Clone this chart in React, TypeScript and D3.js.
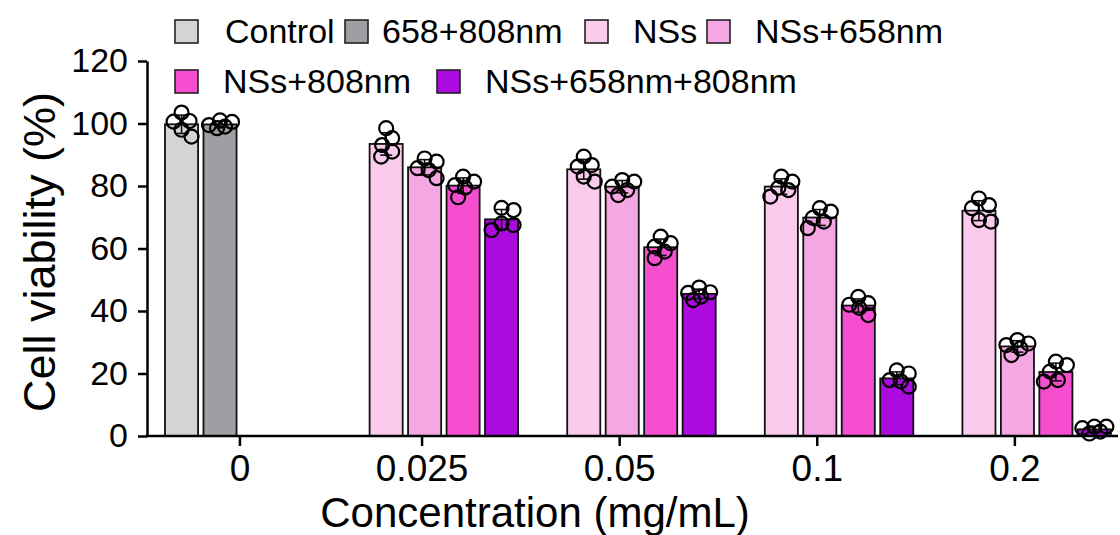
import React, { useEffect, useRef } from 'react';
import * as d3 from 'd3';

const concentrations = ['0', '0.025', '0.05', '0.1', '0.2'];
const seriesNames = ['Control', '658+808nm', 'NSs', 'NSs+658nm', 'NSs+808nm', 'NSs+658nm+808nm'];
const seriesColors = ['#d4d4d4', '#a09ea3', '#facbec', '#f5a7e3', '#f54fd0', '#ad0ae0'];

// replicates (%) per concentration, null where the group was not tested
const controlReps = [[103.5, 100.6, 100.8, 98, 95.8], null, null, null, null];
const laserReps = [[100.5, 101, 99, 98.5, 99.5], null, null, null, null];
const nssReps = [null, [98.5, 95.3, 93.1, 91, 89.4], [89.4, 86.2, 86.7, 81.4, 83], [83, 81.4, 78.7, 76.6, 79.4], [76, 72.9, 73.9, 68.6, 69.1]];
const nss658Reps = [null, [88.8, 87.8, 85.7, 85.1, 82.5], [81.9, 81.4, 78.7, 77.1, 79.8], [72.9, 71.8, 68.6, 66.5, 69.8], [30.7, 29.6, 28, 25.9, 29.1]];
const nss808Reps = [null, [83, 81.4, 80.3, 79.5, 76.4], [63.8, 60.6, 61.7, 56.9, 59], [44.5, 42.5, 42, 38.7, 41], [23.8, 20.6, 22.7, 17.4, 17.9]];
const nssBothReps = [null, [73, 72.3, 68, 67.5, 65.9], [47.5, 46, 44.6, 43.5, 45.8], [21, 20, 15.8, 17.9, 17.5], [3, 3, 2.5, 1.4, 0.8]];

const yTicks = [0, 20, 40, 60, 80, 100, 120];

const allReps = [controlReps, laserReps, nssReps, nss658Reps, nss808Reps, nssBothReps];
const FONT = '"Liberation Sans", Arial, sans-serif';

// greedy beeswarm, kept inside the bar: dots may overlap a little like in Prism
function swarm(ys: number[], minDist: number, maxDx: number) {
  const order = d3.range(ys.length).sort((a, b) => ys[a] - ys[b]);
  const placed: { x: number; y: number }[] = [];
  const out: number[] = new Array(ys.length).fill(0);
  order.forEach((i) => {
    let best = 0;
    let bestScore = -1;
    for (let k = 0; k <= maxDx * 2; k++) {
      const dx = k === 0 ? 0 : (k % 2 ? 1 : -1) * Math.ceil(k / 2);
      const near = placed.length
        ? d3.min(placed, (p) => Math.hypot(p.x - dx, p.y - ys[i])) as number
        : Infinity;
      if (near >= minDist) {
        best = dx;
        bestScore = Infinity;
        break;
      }
      if (near > bestScore) {
        bestScore = near;
        best = dx;
      }
    }
    placed.push({ x: best, y: ys[i] });
    out[i] = best;
  });
  return out;
}

function App() {
  const svgRef = useRef(null);

  useEffect(() => {
    const svg = d3.select(svgRef.current);
    svg.selectAll('*').remove();

    const width = 1120;
    const height = 535;
    const axisX = 147;
    const axisY = 436;

    const y = d3.scaleLinear().domain([0, 120]).range([axisY, 61]);
    const group = d3.scaleBand().domain(concentrations).range([172, 172 + 5 * 197.6]);
    const slot = d3.scaleBand().domain(d3.range(4).map(String)).range([0, 148.5]).paddingInner(0.14);
    const bw = slot.bandwidth();
    const zeroShift = -7;

    const groupStart = (c: string) => (group(c) as number) + (c === '0' ? zeroShift : 0);
    const tickX = (c: string) =>
      c === '0' ? groupStart(c) + (slot('2') as number) - 2 : groupStart(c) + (slot('1') as number) + 14;

    // flatten to bar records
    const bars: any[] = [];
    concentrations.forEach((c, gi) => {
      let j = 0;
      allReps.forEach((reps, si) => {
        const vals = reps[gi];
        if (!vals) return;
        const x0 = groupStart(c) + (slot(String(j)) as number);
        bars.push({
          c,
          si,
          vals,
          x0,
          mean: d3.mean(vals),
          sd: d3.deviation(vals),
        });
        j++;
      });
    });

    svg.attr('width', width).attr('height', height);

    // bars
    svg.append('g')
      .selectAll('rect')
      .data(bars)
      .join('rect')
      .attr('x', (d) => d.x0)
      .attr('y', (d) => y(d.mean))
      .attr('width', bw)
      .attr('height', (d) => axisY - y(d.mean))
      .attr('fill', (d) => seriesColors[d.si])
      .attr('stroke', '#111')
      .attr('stroke-width', 1.8);

    // error bars (mean ± SD)
    const eb = svg.append('g').attr('stroke', '#111').attr('stroke-width', 1.6);
    bars.forEach((d) => {
      const cx = d.x0 + bw / 2;
      eb.append('line').attr('x1', cx).attr('x2', cx).attr('y1', y(d.mean - d.sd)).attr('y2', y(d.mean + d.sd));
      [d.mean - d.sd, d.mean + d.sd].forEach((v) => {
        eb.append('line').attr('x1', cx - 6).attr('x2', cx + 6).attr('y1', y(v)).attr('y2', y(v));
      });
    });

    // replicate dots
    const dots = svg.append('g');
    bars.forEach((d) => {
      const cx = d.x0 + bw / 2;
      const ys = d.vals.map((v: number) => y(v));
      const dxs = swarm(ys, 11.5, 12);
      dots.selectAll(null)
        .data(d.vals)
        .join('circle')
        .attr('cx', (_v: number, i: number) => cx + dxs[i])
        .attr('cy', (v: number) => y(v))
        .attr('r', 7)
        .attr('fill', 'none')
        .attr('stroke', '#000')
        .attr('stroke-width', 2.2);
    });

    // y axis
    const yAxis = svg.append('g')
      .attr('transform', `translate(${axisX},0)`)
      .call(d3.axisLeft(y).tickValues(yTicks).tickSize(9).tickSizeOuter(0).tickPadding(10));
    yAxis.select('.domain').attr('stroke', '#000').attr('stroke-width', 2.5);
    yAxis.selectAll('.tick line').attr('stroke', '#000').attr('stroke-width', 2.5);
    yAxis.selectAll('.tick text').attr('font-family', FONT).attr('font-size', 34).attr('fill', '#000');

    // x axis
    const xAxis = svg.append('g');
    xAxis.append('line')
      .attr('x1', axisX - 1.25).attr('x2', 1118)
      .attr('y1', axisY).attr('y2', axisY)
      .attr('stroke', '#000').attr('stroke-width', 2.5);
    const xt = xAxis.selectAll('g.xt').data(concentrations).join('g')
      .attr('transform', (c) => `translate(${tickX(c)},${axisY})`);
    xt.append('line').attr('y1', 0).attr('y2', 10).attr('stroke', '#000').attr('stroke-width', 2.5);
    xt.append('text')
      .attr('y', 45)
      .attr('text-anchor', 'middle')
      .attr('font-family', FONT)
      .attr('font-size', 37)
      .text((c) => c);

    // axis titles
    svg.append('text')
      .attr('transform', 'translate(55,252) rotate(-90)')
      .attr('text-anchor', 'middle')
      .attr('font-family', FONT)
      .attr('font-size', 45)
      .text('Cell viability (%)');
    svg.append('text')
      .attr('x', 535)
      .attr('y', 527)
      .attr('text-anchor', 'middle')
      .attr('font-family', FONT)
      .attr('font-size', 42)
      .text('Concentration (mg/mL)');

    // legend
    const legendPos = [
      { bx: 175, tx: 225, row: 0 },
      { bx: 345, tx: 382, row: 0 },
      { bx: 585, tx: 633, row: 0 },
      { bx: 707, tx: 755, row: 0 },
      { bx: 175, tx: 223, row: 1 },
      { bx: 437, tx: 485, row: 1 },
    ];
    const rowTop = [20, 70];
    const lg = svg.append('g');
    seriesNames.forEach((name, i) => {
      const p = legendPos[i];
      lg.append('rect')
        .attr('x', p.bx).attr('y', rowTop[p.row])
        .attr('width', 23).attr('height', 23)
        .attr('fill', seriesColors[i])
        .attr('stroke', '#222').attr('stroke-width', 1.6);
      lg.append('text')
        .attr('x', p.tx).attr('y', rowTop[p.row] + 23)
        .attr('font-family', FONT)
        .attr('font-size', 34)
        .text(name);
    });
  }, []);

  return <svg ref={svgRef} style={{ position: 'absolute', left: 0, top: 0, background: '#fff' }}></svg>;
}

export default App;
